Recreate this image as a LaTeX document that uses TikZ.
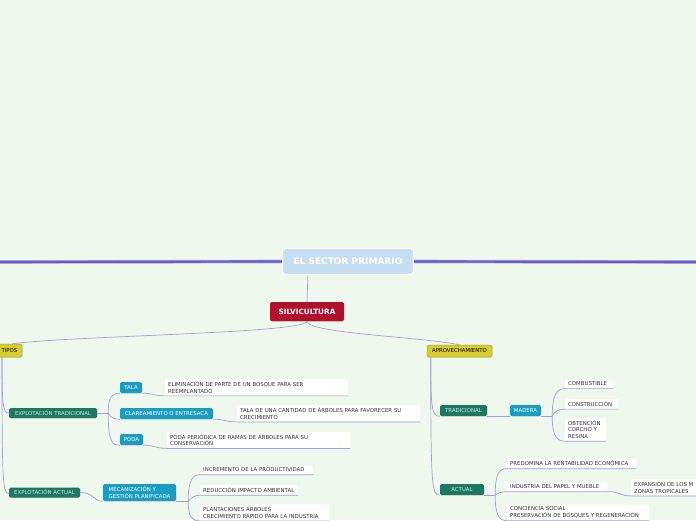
\documentclass[tikz,border=0pt]{standalone}
\usepackage{fontspec}
\setmainfont{DejaVu Sans}
\usetikzlibrary{shadows}
\definecolor{canvas}{HTML}{EFF8EC}
\definecolor{spine}{HTML}{6B5BC6}
\definecolor{spineSoft}{HTML}{AFA6E2}
\definecolor{link}{HTML}{A39BDB}
\definecolor{rootFill}{HTML}{C5DEF1}
\definecolor{crimson}{HTML}{B20F2D}
\definecolor{mustard}{HTML}{D8CD2C}
\definecolor{mustardEdge}{HTML}{A59E3C}
\definecolor{pine}{HTML}{1E7760}
\definecolor{pineText}{HTML}{D3EFE2}
\definecolor{teal}{HTML}{1B9DC2}
\definecolor{ink}{HTML}{333333}

\begin{document}
\begin{tikzpicture}[
    x=1pt, y=-1pt,
    font=\fontsize{5.4}{6.5}\selectfont,
    rootbox/.style={
        fill=rootFill,
        draw=white,
        line width=1.2pt,
        rounded corners=3pt,
        minimum width=131pt,
        minimum height=26pt,
        text=white,
        font=\fontsize{9}{10}\selectfont\bfseries
    },
    topic/.style={
        fill=crimson,
        rounded corners=2pt,
        minimum width=74pt,
        minimum height=19pt,
        text=white,
        font=\fontsize{7.3}{8}\selectfont\bfseries,
        drop shadow={opacity=0.25, shadow xshift=0.4pt, shadow yshift=-0.9pt}
    },
    tag/.style={
        rounded corners=1.5pt,
        inner sep=0pt,
        minimum height=11pt,
        drop shadow={opacity=0.2, shadow xshift=0.3pt, shadow yshift=-0.7pt}
    },
    yellowTag/.style={tag, fill=mustard, draw=mustardEdge, line width=0.5pt, text=black},
    greenTag/.style={tag, fill=pine, text=pineText},
    blueTag/.style={tag, fill=teal, text=white},
    leaf/.style={
        fill=white,
        rounded corners=1pt,
        text=ink,
        align=left,
        text width=#1,
        inner xsep=3pt,
        inner ysep=2.4pt,
        anchor=west,
        execute at begin node={\hyphenpenalty=10000}
    },
    branch/.style={draw=link, line width=0.7pt},
    spineline/.style={draw=spine, line width=2.2pt, preaction={draw=spineSoft, line width=3.6pt}}
]

% Canvas.
\useasboundingbox (0,0) rectangle (696,520);
\clip (0,0) rectangle (696,520);
\fill[canvas] (0,0) rectangle (696,520);

% Centre and main topic.
\node[rootbox] (root) at (348,261.5) {EL SECTOR PRIMARIO};
\node[topic] (silv) at (307,311.5) {SILVICULTURA};

\coordinate (spineL) at (0,262);
\coordinate (spineR) at (696,262);
\draw[spineline] (spineL) -- (root.west);
\draw[spineline] (root.east) -- (spineR);
\draw[branch] ([xshift=26pt]root.south west) -- (silv.north);

% Left branch: tipos.
\node[yellowTag, minimum width=25pt, minimum height=13pt] (tipos) at (9.5,350.5) {TIPOS};
\node[greenTag, minimum width=88pt, minimum height=10pt] (explTrad) at (53,413) {EXPLOTACIÓN TRADICIONAL};
\node[greenTag, minimum width=71pt, minimum height=10pt] (explAct) at (44.5,492.5) {EXPLOTACIÓN ACTUAL};

\node[blueTag, minimum width=22pt] (tala) at (131,387.5) {TALA};
\node[blueTag, minimum width=93pt] (clar) at (166.5,413.5) {CLAREAMIENTO O ENTRESACA};
\node[blueTag, minimum width=23pt] (poda) at (131.5,439.5) {PODA};
\node[blueTag, minimum width=73pt, minimum height=17pt, align=left] (mecan) at (139.5,492.5) {MECANIZACIÓN Y\\GESTIÓN PLANIFICADA};

\node[leaf=177pt] (elim) at (165,387.5) {ELIMINACIÓN DE PARTE DE UN BOSQUE PARA SER\\REEMPLANTADO};
\node[leaf=177pt] (talaCant) at (237,413.5) {TALA DE UNA CANTIDAD DE ÁRBOLES PARA FAVORECER SU\\CRECIMIENTO};
\node[leaf=177pt] (podaPer) at (167,440) {PODA PERIÓDICA DE RAMAS DE ÁRBOLES PARA SU\\CONSERVACIÓN};
\node[leaf=107pt] (incr) at (200,470) {INCREMENTO DE LA PRODUCTIVIDAD};
\node[leaf=92pt] (reduc) at (200,490) {REDUCCIÓN IMPACTO AMBIENTAL};
\node[leaf=123pt] (plant) at (200,512.5) {PLANTACIONES ÁRBOLES\\CRECIMIENTO RÁPIDO PARA LA INDUSTRIA};

% Right branch: aprovechamiento.
\node[yellowTag, minimum width=65pt, minimum height=12pt] (aprov) at (459.5,351) {APROVECHAMIENTO};
\node[greenTag, minimum width=47pt] (trad) at (463.5,410.5) {TRADICIONAL};
\node[blueTag, minimum width=31pt] (madera) at (525.5,410.5) {MADERA};
\node[greenTag, minimum width=44pt] (act) at (462,489.5) {ACTUAL};

\node[leaf=42pt] (comb) at (565,384) {COMBUSTIBLE};
\node[leaf=47pt] (constr) at (565,404) {CONSTRUCCIÓN};
\node[leaf=35pt] (obt) at (565,429.5) {OBTENCIÓN\\CORCHO Y\\RESINA};
\node[leaf=123pt] (predom) at (507,463.5) {PREDOMINA LA RENTABILIDAD ECONÓMICA};
\node[leaf=94pt] (indus) at (507,487) {INDUSTRIA DEL PAPEL Y MUEBLE};
\node[leaf=136pt] (consc) at (507,512.5) {CONCIENCIA SOCIAL\\PRESERVACIÓN DE BOSQUES Y REGENERACIÓN};
\node[leaf=74pt] (expan) at (631,487.5) {EXPANSIÓN DE LOS M\\ZONAS TROPICALES};

% Connectors from the main topic.
\draw[branch] (silv.south) .. controls +(0,12) and +(60,-8) .. ([xshift=3pt]tipos.north);
\draw[branch] (silv.south) .. controls +(0,12) and +(-40,-8) .. (aprov.north);

\coordinate (tiposFoot) at ([xshift=-7.5pt]tipos.south);
\draw[branch] (tiposFoot) .. controls +(0,48) and +(-6,0) .. (explTrad.west);
\draw[branch] (tiposFoot) .. controls +(0,128) and +(-6,0) .. ([yshift=-1pt]explAct.west);

\coordinate (jTrad) at ([xshift=11pt]explTrad.east);
\draw[branch] (explTrad.east) -- (jTrad);
\draw[branch] (jTrad) .. controls +(0,-16) and +(-8,0) .. (tala.south west);
\draw[branch] (jTrad) .. controls +(3,5) and +(-6,0) .. (clar.south west);
\draw[branch] (jTrad) .. controls +(0,28) and +(-8,0) .. (poda.south west);

\draw[branch] (tala.south east) .. controls +(12,0) and +(-12,0) .. (elim.south west) -- (elim.south east);
\draw[branch] (clar.south east) .. controls +(12,0) and +(-12,0) .. (talaCant.south west) -- (talaCant.south east);
\draw[branch] (poda.south east) .. controls +(12,0) and +(-12,0) .. (podaPer.south west) -- (podaPer.south east);

\draw[branch] (explAct.east) .. controls +(14,0) and +(-10,0) .. (mecan.south west);
\coordinate (jMecan) at ([xshift=12pt]mecan.south east);
\draw[branch] (mecan.south east) -- (jMecan);
\draw[branch] (jMecan) .. controls +(0,-20) and +(-8,0) .. (incr.south west) -- (incr.south east);
\draw[branch] (jMecan) .. controls +(3,-3) and +(-6,0) .. (reduc.south west) -- (reduc.south east);
\draw[branch] (jMecan) .. controls +(0,16) and +(-8,0) .. (plant.south west) -- (plant.south east);

\coordinate (aprovFoot) at ([xshift=4pt]aprov.south west);
\draw[branch] (aprovFoot) .. controls +(0,52) and +(-8,0) .. (trad.south west);
\draw[branch] (aprovFoot) .. controls +(0,132) and +(-8,0) .. (act.south west);
\draw[branch] (trad.south east) -- (madera.south west);

\coordinate (jMadera) at ([xshift=11pt]madera.south east);
\draw[branch] (madera.south east) -- (jMadera);
\draw[branch] (jMadera) .. controls +(0,-22) and +(-8,0) .. (comb.south west) -- (comb.south east);
\draw[branch] (jMadera) .. controls +(2,-5) and +(-6,0) .. (constr.south west) -- (constr.south east);
\draw[branch] (jMadera) .. controls +(0,20) and +(-8,0) .. (obt.south west) -- (obt.south east);

\coordinate (jAct) at ([xshift=11pt]act.south east);
\draw[branch] (act.south east) -- (jAct);
\draw[branch] (jAct) .. controls +(0,-22) and +(-8,0) .. (predom.south west) -- (predom.south east);
\draw[branch] (jAct) .. controls +(2,-2) and +(-6,0) .. (indus.south west) -- (indus.south east);
\draw[branch] (jAct) .. controls +(0,20) and +(-8,0) .. (consc.south west) -- (consc.south east);
\draw[branch] (indus.south east) .. controls +(14,0) and +(-12,0) .. (expan.south west) -- (expan.south east);

\end{tikzpicture}
\end{document}
